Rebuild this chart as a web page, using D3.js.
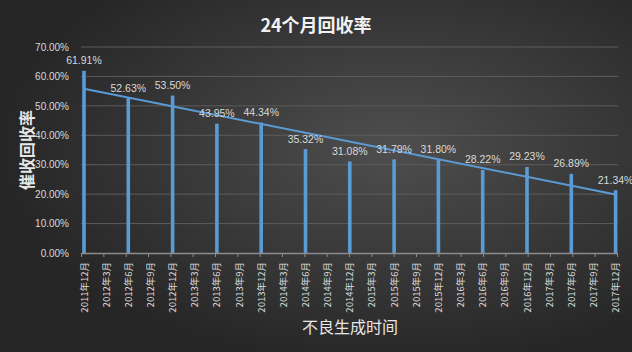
<!DOCTYPE html>
<html>
<head>
<meta charset="utf-8">
<script src="https://cdn.jsdelivr.net/npm/d3@7"></script>
<style>
  html, body { margin: 0; padding: 0; background: #2a2a2a; }
  svg { display: block; font-family: "Noto Sans CJK SC", "Liberation Sans", sans-serif; }
</style>
</head>
<body>
<svg id="chart" width="632" height="352"></svg>
<script>
// quarterly categories on the x axis
const categories = [
  '2011年12月', '2012年3月', '2012年6月', '2012年9月', '2012年12月',
  '2013年3月', '2013年6月', '2013年9月', '2013年12月',
  '2014年3月', '2014年6月', '2014年9月', '2014年12月',
  '2015年3月', '2015年6月', '2015年9月', '2015年12月',
  '2016年3月', '2016年6月', '2016年9月', '2016年12月',
  '2017年3月', '2017年6月', '2017年9月', '2017年12月'
];
// bars only exist every half year
const barMonths = [
  '2011年12月', '2012年6月', '2012年12月', '2013年6月', '2013年12月',
  '2014年6月', '2014年12月', '2015年6月', '2015年12月',
  '2016年6月', '2016年12月', '2017年6月', '2017年12月'
];
const rates = [0.6191, 0.5263, 0.5350, 0.4395, 0.4434, 0.3532, 0.3108,
               0.3179, 0.3180, 0.2822, 0.2923, 0.2689, 0.2134];
const yTicks = [0, 0.1, 0.2, 0.3, 0.4, 0.5, 0.6, 0.7];

const title = '24个月回收率';
const yTitle = '催收回收率';
const xTitle = '不良生成时间';

const width = 632, height = 352;
const plot = {left: 81, right: 618, top: 47, bottom: 253};

const svg = d3.select('#chart');

// background gradient
const defs = svg.append('defs');
const grad = defs.append('radialGradient')
    .attr('id', 'bg')
    .attr('cx', '62%').attr('cy', '42%').attr('r', '62%');
grad.append('stop').attr('offset', '0%').attr('stop-color', '#4e4e4e');
grad.append('stop').attr('offset', '100%').attr('stop-color', '#262626');
svg.append('rect')
    .attr('width', width).attr('height', height)
    .attr('fill', 'url(#bg)');

const y = d3.scaleLinear()
    .domain([0, 0.7])
    .range([plot.bottom, plot.top]);

// tick marks sit on the category positions, bars a little to the right
const xTick = d3.scalePoint()
    .domain(categories)
    .range([plot.left, 617]);
const x = d3.scalePoint()
    .domain(categories)
    .range([84, 615.6]);

const pct = d3.format('.2%');

// gridlines
svg.append('g')
  .selectAll('line')
  .data(yTicks.slice(1))
  .join('line')
    .attr('x1', plot.left).attr('x2', plot.right)
    .attr('y1', d => y(d)).attr('y2', d => y(d))
    .attr('stroke', '#5c5c5c')
    .attr('stroke-width', 1);

// y axis labels
svg.append('g')
    .attr('transform', `translate(${plot.left - 9},0)`)
    .call(d3.axisLeft(y).tickValues(yTicks).tickFormat(pct).tickSize(0))
    .call(g => g.select('.domain').remove())
    .call(g => g.selectAll('text')
      .attr('fill', '#d9d9d9')
      .attr('font-size', 10)
      .attr('font-family', '"Liberation Sans", sans-serif'));

// bars
const data = barMonths.map((m, i) => ({month: m, value: rates[i]}));
svg.append('g')
  .selectAll('rect')
  .data(data)
  .join('rect')
    .attr('x', d => x(d.month) - 1.8)
    .attr('width', 3.6)
    .attr('y', d => y(d.value))
    .attr('height', d => y(0) - y(d.value))
    .attr('fill', '#5b9bd5');

// x axis
svg.append('g')
    .attr('transform', `translate(0,${plot.bottom})`)
    .call(d3.axisBottom(xTick).tickSize(4).tickSizeOuter(0).tickFormat(''))
    .call(g => g.select('.domain').attr('stroke', '#8c8c8c').attr('stroke-width', 1.5))
    .call(g => g.selectAll('.tick line').attr('stroke', '#8c8c8c'));

svg.append('g')
  .selectAll('text')
  .data(categories)
  .join('text')
    .attr('transform', d => `translate(${x(d) + 3.5},${plot.bottom + 9}) rotate(-90)`)
    .attr('text-anchor', 'end')
    .attr('fill', '#d9d9d9')
    .attr('font-size', 9.5)
    .text(d => d);

// linear trendline fitted to the bar values
const n = rates.length;
const mx = d3.mean(rates, (d, i) => i);
const my = d3.mean(rates);
const slope = d3.sum(rates, (d, i) => (i - mx) * (d - my)) / d3.sum(rates, (d, i) => (i - mx) ** 2);
const fit = i => my + slope * (i - mx);
svg.append('line')
    .attr('x1', x(barMonths[0])).attr('y1', y(fit(0)))
    .attr('x2', x(barMonths[n - 1])).attr('y2', y(fit(n - 1)))
    .attr('stroke', '#5b9bd5')
    .attr('stroke-width', 2);

// value labels
svg.append('g')
  .selectAll('text')
  .data(data)
  .join('text')
    .attr('x', d => x(d.month))
    .attr('y', d => y(d.value) - 6.5)
    .attr('text-anchor', 'middle')
    .attr('fill', '#d9d9d9')
    .attr('font-size', 10.5)
    .attr('font-family', '"Liberation Sans", sans-serif')
    .text(d => pct(d.value));

// titles
svg.append('text')
    .attr('x', 316).attr('y', 32)
    .attr('text-anchor', 'middle')
    .attr('fill', '#f2f2f2')
    .attr('font-size', 18)
    .attr('font-weight', 'bold')
    .text(title);

svg.append('text')
    .attr('transform', 'translate(33,150) rotate(-90)')
    .attr('text-anchor', 'middle')
    .attr('fill', '#e6e6e6')
    .attr('font-size', 16)
    .attr('font-weight', 'bold')
    .text(yTitle);

svg.append('text')
    .attr('x', 350).attr('y', 333)
    .attr('text-anchor', 'middle')
    .attr('fill', '#e6e6e6')
    .attr('font-size', 16)
    .text(xTitle);
</script>
</body>
</html>
